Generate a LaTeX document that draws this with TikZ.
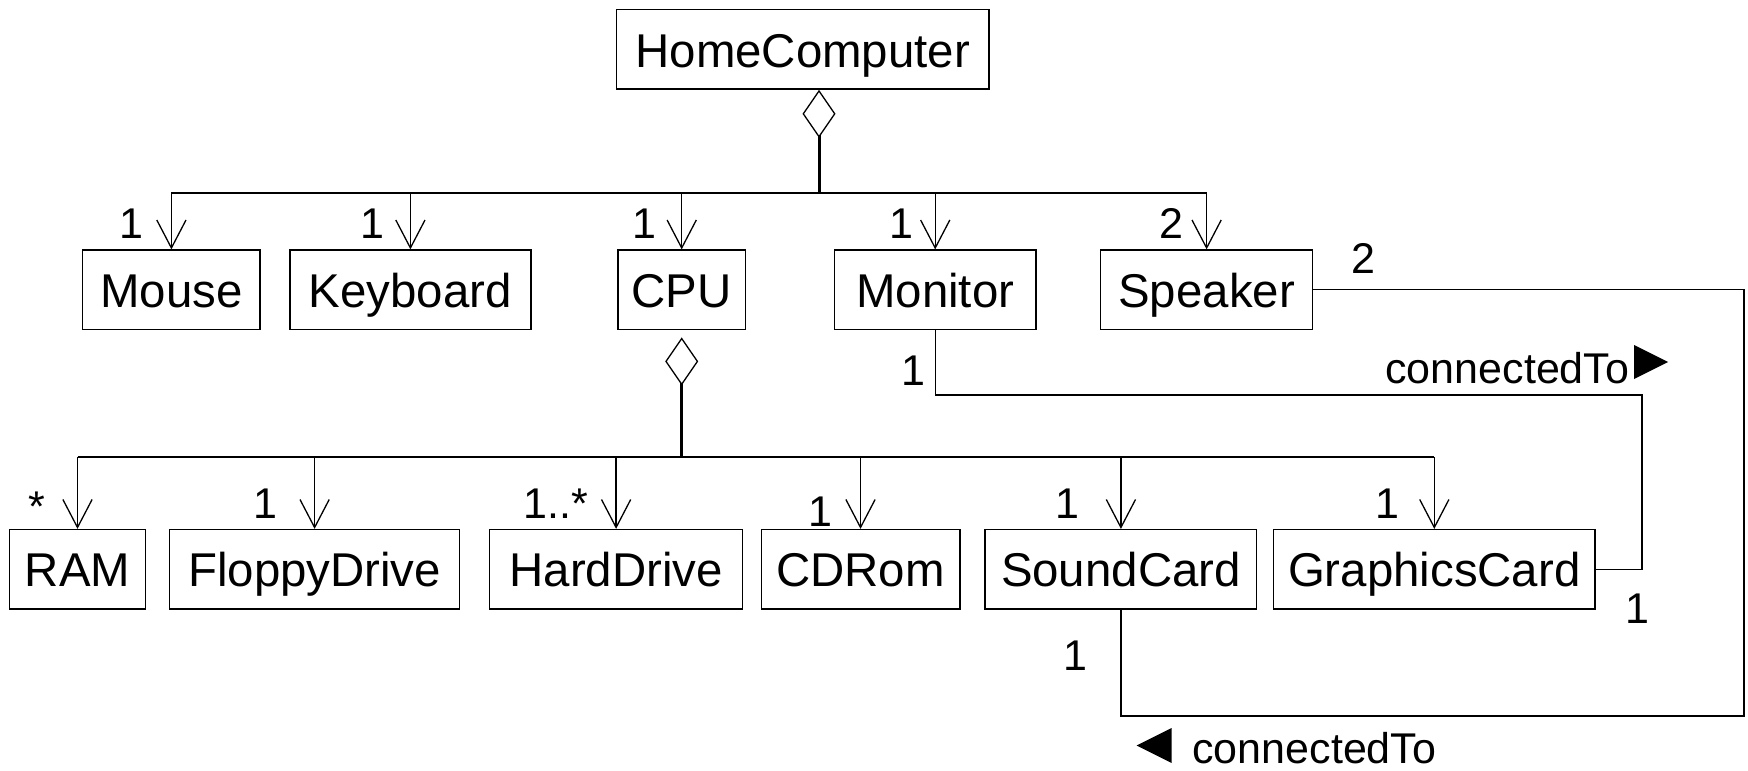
\documentclass[tikz,border=0pt]{standalone}
\usepackage{fontspec}
\setmainfont{Liberation Sans}
\usetikzlibrary{arrows.meta}
\newcommand\bxfont{\fontsize{23.7pt}{28pt}\selectfont}
\newcommand\lbfont{\fontsize{21.5pt}{25pt}\selectfont}
\tikzset{
  cls/.style={draw, line width=0.65pt, inner sep=0pt, font=\bxfont,
    text height=17.7pt, text depth=0pt, minimum height=39.65pt, align=center},
  mult/.style={font=\lbfont, inner sep=0pt, anchor=base},
  trunk/.style={line width=1.5pt},
  busline/.style={line width=1.1pt},
  drop/.style={line width=0.65pt, -{Straight Barb[length=14pt, width=14.6pt, line width=0.65pt]}},
  agg/.style={{Diamond[open, fill=white, length=24pt, width=16.5pt, line width=0.65pt]}-},
  assoc/.style={line width=0.65pt},
}
\begin{document}
\begin{tikzpicture}[x=0.5pt, y=-0.5pt]
\useasboundingbox (0,0) rectangle (1748,770);

% classes
\node[cls, minimum width=186.25pt] (hc) at (802.75,49.5) {HomeComputer};
\node[cls, minimum width=88.65pt]  (mouse) at (171.4,289.7) {Mouse};
\node[cls, minimum width=120.5pt]  (kbd) at (410.4,289.7) {Keyboard};
\node[cls, minimum width=63.65pt]  (cpu) at (681.7,289.7) {CPU};
\node[cls, minimum width=100.65pt] (mon) at (935.2,289.7) {Monitor};
\node[cls, minimum width=106.1pt]  (spk) at (1206.6,289.7) {Speaker};

\node[cls, minimum width=67.85pt]  (ram) at (77.5,569.2) {RAM};
\node[cls, minimum width=144.9pt]  (fdd) at (314.6,569.2) {FloppyDrive};
\node[cls, minimum width=126.5pt]  (hdd) at (616.1,569.2) {HardDrive};
\node[cls, minimum width=99.35pt]  (cdr) at (860.5,569.2) {CDRom};
\node[cls, minimum width=135.9pt]  (snd) at (1120.9,569.2) {SoundCard};
\node[cls, minimum width=160.7pt]  (gfx) at (1434.3,569.2) {GraphicsCard};

% HomeComputer aggregation
\coordinate (hcd) at (819,0 |- hc.south);
\coordinate (hcbus) at (819,193.3);
\draw[trunk, agg] (hcd) -- (hcbus);
\foreach \c in {mouse,kbd,cpu,mon,spk}{
  \draw[drop] (hcbus) -| (\c.north);
}
\draw[busline] (mouse.north |- hcbus) -- (spk.north |- hcbus);

% CPU aggregation
\coordinate (cpud) at ([yshift=-3.7pt]cpu.south);
\coordinate (cpubus) at (681.7,457.3);
\draw[trunk, agg] (cpud) -- (cpubus);
\foreach \c in {ram,fdd,hdd,cdr,snd,gfx}{
  \draw[drop] (cpubus) -| (\c.north);
}
\draw[busline] (ram.north |- cpubus) -- (gfx.north |- cpubus);

% multiplicities row 1
\node[mult] (m1) at (131.3,238.3) {1};
\node[mult] (m2) at (372,238.3) {1};
\node[mult] (m3) at (644,238.3) {1};
\node[mult] (m4) at (901.4,238.3) {1};
\node[mult] (m5) at (1171,238.3) {2};
% multiplicities row 2
\node[mult] (m6) at (36.4,521) {*};
\node[mult] (m7) at (265.8,518.3) {1};
\node[mult] (m8) at (556,518.3) {1..*};
\node[mult] (m9) at (820,526) {1};
\node[mult] (m10) at (1067.6,518.3) {1};
\node[mult] (m11) at (1387.6,518.3) {1};

% associations
\coordinate (sR) at (1744,716);
\draw[assoc] (spk.east) -| (sR) -| (snd.south);
\coordinate (mR) at (1642,395);
\draw[assoc] (mon.south) |- (mR) |- (gfx.east);

\node[mult] (a1) at (1363.6,273.3) {2};
\node[mult] (a2) at (1075.7,670) {1};
\node[mult] (a3) at (913.6,385) {1};
\node[mult] (a4) at (1637,623) {1};

\node[mult, anchor=base west] (ct1) at (1385,383) {connectedTo};
\fill (1634,345) -- (1668,362) -- (1634,379) -- cycle;
\node[mult, anchor=base west] (ct2) at (1192,763) {connectedTo};
\fill (1171.7,728) -- (1136.7,745.5) -- (1171.7,763) -- cycle;
\end{tikzpicture}
\end{document}
